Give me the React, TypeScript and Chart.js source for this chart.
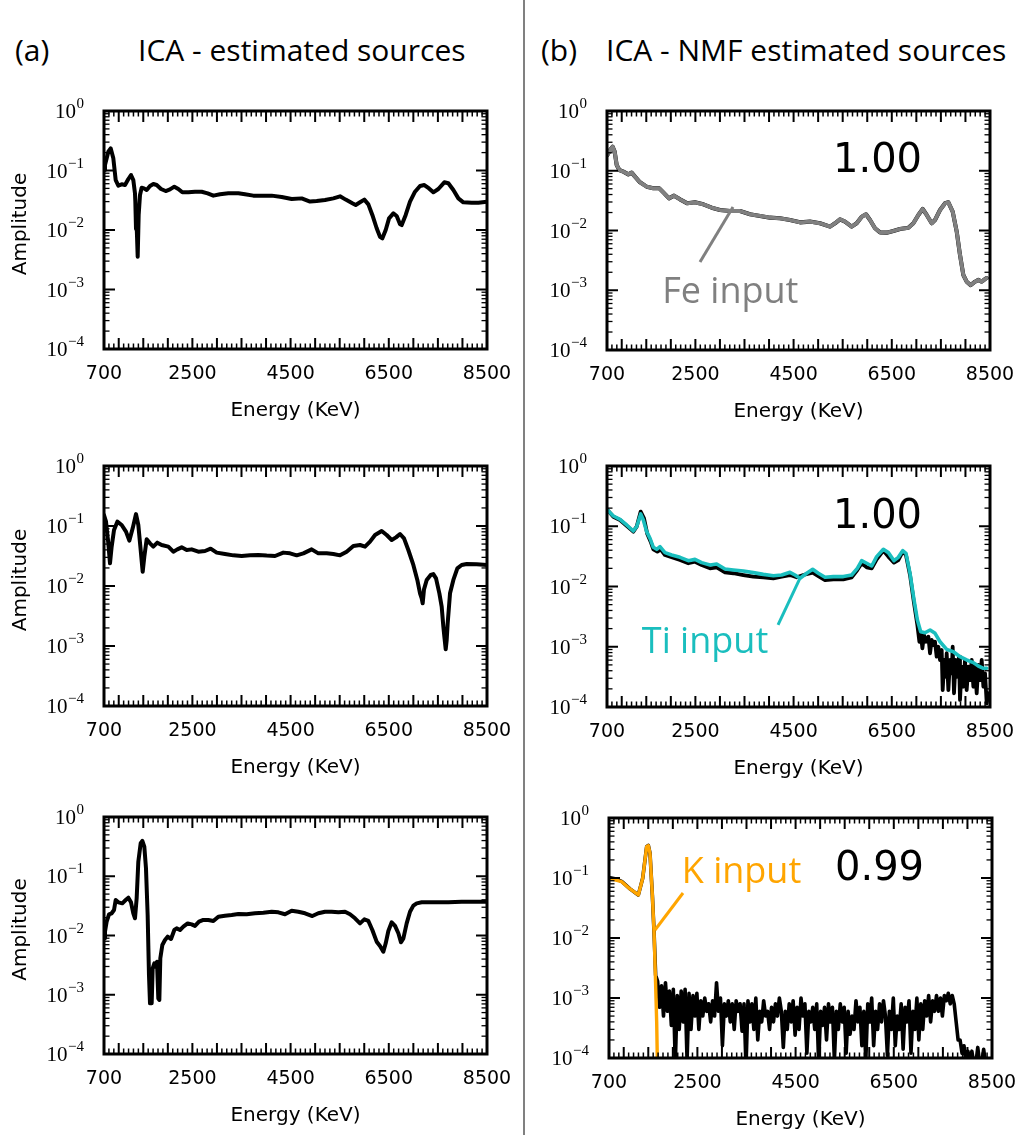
import React, { useEffect, useRef } from "react";
import { Chart, registerables } from "chart.js";
Chart.register(...registerables);

// ---------------- axis values ----------------
const X_MIN = 700;
const X_MAX = 8500;
const X_TICK_LABELS = [700, 2500, 4500, 6500, 8500];
const X_MAJOR_TICKS = [1000, 1500, 2000, 2500, 3000, 3500, 4000, 4500, 5000, 5500, 6000, 6500, 7000, 7500, 8000];
const Y_MIN = 1e-4;
const Y_MAX = 1;
const Y_DECADES = [1e-4, 1e-3, 1e-2, 1e-1, 1];
const Y_EXPONENTS = [-4, -3, -2, -1, 0];

// ---------------- data: [energy (KeV), amplitude] ----------------
const icaSource1: [number, number][] = [
  [700, 0.102], [720, 0.124], [788, 0.207], [836, 0.236], [890, 0.16], [938, 0.069], [992, 0.0556],
  [1060, 0.0586], [1128, 0.057], [1196, 0.072], [1250, 0.084], [1297, 0.069], [1331, 0.0413],
  [1338, 0.03], [1352, 0.0104], [1365, 0.0121], [1386, 0.00356], [1406, 0.0179], [1433, 0.0387],
  [1467, 0.0514], [1515, 0.0501], [1569, 0.047], [1637, 0.055], [1705, 0.0593], [1773, 0.057],
  [1861, 0.0489], [1956, 0.0452], [2044, 0.0482], [2132, 0.0535], [2214, 0.0489], [2295, 0.043],
  [2418, 0.043], [2553, 0.044], [2689, 0.044], [2811, 0.0413], [2927, 0.0378], [3063, 0.0398],
  [3232, 0.0413], [3436, 0.0413], [3572, 0.0398], [3741, 0.0378], [3911, 0.0378], [4115, 0.0378],
  [4319, 0.0359], [4522, 0.0332], [4726, 0.034], [4896, 0.03], [5031, 0.0307], [5201, 0.0319],
  [5371, 0.034], [5507, 0.0368], [5622, 0.0324], [5758, 0.0281], [5826, 0.0263], [5914, 0.0292],
  [6002, 0.0324], [6084, 0.027], [6165, 0.0179], [6253, 0.0107], [6321, 0.0077], [6369, 0.00724],
  [6437, 0.01], [6505, 0.0157], [6593, 0.019], [6661, 0.0172], [6729, 0.0125], [6763, 0.0121],
  [6844, 0.0179], [6932, 0.03], [7034, 0.044], [7136, 0.055], [7224, 0.057], [7319, 0.05],
  [7407, 0.043], [7509, 0.0489], [7631, 0.0633], [7713, 0.061], [7815, 0.047], [7917, 0.034],
  [8018, 0.0292], [8188, 0.0288], [8324, 0.0288], [8500, 0.03],
];

const feInput: [number, number][] = [
  [707, 0.183], [761, 0.222], [815, 0.253], [856, 0.209], [897, 0.125], [951, 0.103], [1033, 0.0966],
  [1134, 0.087], [1202, 0.093], [1270, 0.0796], [1372, 0.064], [1508, 0.0542], [1644, 0.0508],
  [1766, 0.0508], [1847, 0.0435], [1963, 0.0345], [2065, 0.0383], [2187, 0.0332], [2336, 0.0285],
  [2492, 0.0296], [2662, 0.0274], [2832, 0.0241], [3001, 0.022], [3205, 0.0212], [3409, 0.0212],
  [3612, 0.0187], [3816, 0.0175], [4020, 0.0164], [4223, 0.016], [4427, 0.015], [4631, 0.0137],
  [4834, 0.0141], [5038, 0.0132], [5242, 0.0116], [5344, 0.0132], [5445, 0.0154], [5547, 0.0141],
  [5683, 0.0116], [5785, 0.0132], [5887, 0.017], [5975, 0.0187], [6057, 0.015], [6158, 0.0109],
  [6260, 0.0093], [6396, 0.0092], [6532, 0.0098], [6667, 0.0106], [6837, 0.0111], [6939, 0.0132],
  [7041, 0.0182], [7129, 0.0229], [7211, 0.0182], [7313, 0.0132], [7380, 0.015], [7482, 0.022],
  [7584, 0.0285], [7652, 0.0296], [7740, 0.0207], [7822, 0.0096], [7889, 0.0039], [7957, 0.0018],
  [8025, 0.00139], [8106, 0.00122], [8195, 0.00139], [8263, 0.00149], [8331, 0.00139], [8399, 0.00154],
  [8433, 0.0016],
];

const icaSource2: [number, number][] = [
  [700, 0.152], [741, 0.118], [788, 0.0514], [822, 0.0239], [856, 0.0453], [904, 0.0857], [972, 0.118],
  [1060, 0.104], [1148, 0.0805], [1216, 0.057], [1284, 0.0914], [1352, 0.158], [1399, 0.104],
  [1447, 0.0398], [1488, 0.0173], [1521, 0.0308], [1569, 0.06], [1637, 0.0514], [1704, 0.0453],
  [1786, 0.0528], [1874, 0.0482], [2010, 0.0453], [2112, 0.0373], [2193, 0.0408], [2282, 0.0441],
  [2384, 0.0398], [2485, 0.0408], [2621, 0.0373], [2757, 0.0383], [2872, 0.0419], [2995, 0.036],
  [3164, 0.0341], [3334, 0.0324], [3504, 0.0316], [3673, 0.0324], [3843, 0.0329], [4013, 0.0321],
  [4183, 0.0316], [4352, 0.036], [4488, 0.035], [4624, 0.0324], [4760, 0.035], [4929, 0.0408],
  [5065, 0.035], [5235, 0.035], [5371, 0.0341], [5507, 0.0324], [5642, 0.0373], [5778, 0.0464],
  [5914, 0.0482], [6016, 0.0453], [6118, 0.0548], [6220, 0.0708], [6355, 0.0826], [6457, 0.0708],
  [6559, 0.0585], [6647, 0.0647], [6729, 0.0736], [6810, 0.0623], [6898, 0.0398], [7000, 0.0224],
  [7081, 0.0126], [7136, 0.00755], [7170, 0.00623], [7190, 0.00514], [7217, 0.0088], [7272, 0.0126],
  [7353, 0.0153], [7407, 0.0158], [7462, 0.0134], [7530, 0.00755], [7577, 0.00453], [7611, 0.0021],
  [7632, 0.00143], [7659, 0.00088], [7679, 0.00126], [7699, 0.00239], [7747, 0.00755], [7815, 0.0126],
  [7896, 0.0197], [7984, 0.0224], [8086, 0.0233], [8289, 0.023], [8500, 0.0224],
];

const tiInput: [number, number][] = [
  [700, 0.19], [829, 0.148], [965, 0.13], [1100, 0.105], [1236, 0.0834], [1304, 0.0984], [1386, 0.16],
  [1440, 0.127], [1508, 0.0813], [1576, 0.063], [1644, 0.0447], [1712, 0.0414], [1779, 0.0458],
  [1881, 0.0365], [2017, 0.0333], [2187, 0.0305], [2356, 0.0268], [2492, 0.0282], [2628, 0.0249],
  [2798, 0.0228], [2934, 0.0236], [3103, 0.0195], [3273, 0.0188], [3477, 0.0181], [3680, 0.017],
  [3884, 0.0159], [4088, 0.0151], [4257, 0.0155], [4427, 0.0172], [4529, 0.0155], [4631, 0.0137],
  [4767, 0.0166], [4889, 0.0193], [5004, 0.0166], [5140, 0.0142], [5310, 0.0146], [5513, 0.0146],
  [5683, 0.0155], [5798, 0.02], [5887, 0.0268], [5989, 0.0243], [6091, 0.0219], [6192, 0.0313],
  [6328, 0.0414], [6430, 0.0365], [6545, 0.0268], [6633, 0.0305], [6722, 0.0394], [6789, 0.0355],
  [6871, 0.0166], [6953, 0.00597], [7021, 0.00278], [7089, 0.00178], [7177, 0.00171], [7279, 0.0019],
  [7381, 0.00167], [7482, 0.00121], [7618, 0.000906], [7754, 0.000828], [7889, 0.000684],
  [8025, 0.000603], [8161, 0.000545], [8263, 0.000479], [8365, 0.000439], [8433, 0.000439],
];

const nmfTi: [number, number][] = [
  [700, 0.19], [829, 0.144], [965, 0.127], [1100, 0.102], [1236, 0.0813], [1304, 0.0984], [1386, 0.175],
  [1454, 0.135], [1521, 0.0743], [1589, 0.0555], [1644, 0.0414], [1725, 0.0379], [1793, 0.0414],
  [1881, 0.0333], [2017, 0.0305], [2187, 0.0275], [2356, 0.0243], [2492, 0.0258], [2628, 0.0228],
  [2798, 0.02], [2934, 0.0208], [3103, 0.0172], [3273, 0.0166], [3477, 0.0155], [3680, 0.0146],
  [3884, 0.0142], [4088, 0.0137], [4257, 0.0146], [4427, 0.0155], [4563, 0.0142], [4699, 0.0155],
  [4889, 0.017], [5004, 0.0149], [5140, 0.0128], [5310, 0.0131], [5513, 0.0131], [5683, 0.0142],
  [5798, 0.0188], [5887, 0.0243], [5989, 0.0208], [6091, 0.02], [6192, 0.0282], [6328, 0.0394],
  [6430, 0.0313], [6545, 0.0249], [6633, 0.0275], [6722, 0.0379], [6789, 0.0333], [6871, 0.0155],
  [6953, 0.00526], [7021, 0.0023], [7062, 0.00121], [7089, 0.00167], [7123, 0.00094], [7156, 0.00157],
  [7197, 0.00121], [7245, 0.00147], [7279, 0.00078], [7313, 0.0013], [7346, 0.00107], [7380, 0.00121],
  [7414, 0.000684], [7448, 0.001], [7482, 0.000603], [7516, 0.000883], [7536, 0.000191], [7570, 0.000603],
  [7597, 0.000318], [7618, 0.00078], [7652, 0.000191], [7686, 0.000603], [7720, 0.000362], [7740, 0.001],
  [7767, 0.000169], [7801, 0.000603], [7835, 0.000318], [7869, 0.000684], [7889, 0.000131], [7923, 0.000467],
  [7957, 0.000217], [7991, 0.000603], [8025, 0.000191], [8059, 0.000467], [8093, 0.00028], [8127, 0.000603],
  [8161, 0.000217], [8195, 0.000467], [8229, 0.000169], [8263, 0.000498], [8297, 0.00028], [8331, 0.000603],
  [8365, 0.000217], [8399, 0.000362], [8433, 0.000115], [8467, 0.000169],
];

const icaSource3: [number, number][] = [
  [700, 0.009], [720, 0.0116], [754, 0.0171], [802, 0.0228], [856, 0.0237], [904, 0.0269], [938, 0.0397],
  [992, 0.0363], [1073, 0.0349], [1141, 0.0397], [1196, 0.0435], [1250, 0.0363], [1297, 0.0237],
  [1331, 0.0195], [1365, 0.0424], [1399, 0.176], [1447, 0.36], [1481, 0.394], [1521, 0.316], [1555, 0.136],
  [1589, 0.0222], [1616, 0.00215], [1637, 0.000717], [1671, 0.000717], [1691, 0.00279], [1725, 0.00339],
  [1752, 0.00298], [1779, 0.00361], [1806, 0.00087], [1827, 0.000815], [1847, 0.00412], [1888, 0.00692],
  [1942, 0.00839], [1996, 0.00955], [2065, 0.00873], [2132, 0.0124], [2180, 0.0132], [2248, 0.0124],
  [2316, 0.0141], [2404, 0.016], [2485, 0.0154], [2553, 0.0145], [2635, 0.0171], [2723, 0.0183],
  [2825, 0.0183], [2927, 0.0176], [3029, 0.0208], [3164, 0.0216], [3300, 0.0222], [3436, 0.0231],
  [3606, 0.0228], [3775, 0.0237], [3945, 0.0243], [4115, 0.0252], [4251, 0.0246], [4386, 0.0228],
  [4522, 0.0262], [4658, 0.0252], [4794, 0.0237], [4943, 0.0213], [5065, 0.0237], [5201, 0.0252],
  [5337, 0.0252], [5473, 0.0246], [5609, 0.0252], [5710, 0.0228], [5812, 0.0195], [5914, 0.016],
  [6002, 0.0187], [6084, 0.0176], [6165, 0.0124], [6253, 0.00787], [6321, 0.00665], [6389, 0.00533],
  [6437, 0.00738], [6491, 0.0119], [6559, 0.0167], [6627, 0.0145], [6695, 0.0109], [6749, 0.00767],
  [6797, 0.00895], [6864, 0.016], [6932, 0.0252], [7000, 0.0319], [7068, 0.0349], [7170, 0.0363],
  [7306, 0.0363], [7509, 0.0363], [7713, 0.0363], [7985, 0.0372], [8256, 0.0372], [8500, 0.0372],
];

const kInput: [number, number][] = [
  [700, 0.0987], [822, 0.0927], [958, 0.0869], [1128, 0.0656], [1297, 0.0521], [1386, 0.0987],
  [1467, 0.333], [1501, 0.346], [1535, 0.258], [1583, 0.0521], [1617, 0.0128], [1644, 0.00242],
  [1671, 0.000403], [1690, 0.00005],
];

const nmfK: [number, number][] = [
  [700, 0.102], [822, 0.097], [958, 0.088], [1128, 0.066], [1297, 0.052], [1386, 0.099], [1467, 0.333],
  [1501, 0.35], [1535, 0.26], [1583, 0.052], [1617, 0.0128], [1650, 0.0024],
  [1690, 0.0019], [1730, 0.0007], [1770, 0.0016], [1810, 0.0005], [1850, 0.0018], [1890, 0.0006],
  [1930, 0.0013], [1970, 0.00035], [2010, 0.0014], [2050, 0.00008], [2090, 0.0011], [2130, 0.0003],
  [2170, 0.0013], [2210, 0.0004], [2250, 0.0014], [2290, 0.00009], [2330, 0.0012], [2370, 0.0003],
  [2410, 0.0011], [2450, 0.0005], [2490, 0.0012], [2530, 0.0003], [2570, 0.0009], [2610, 0.0005],
  [2650, 0.001], [2690, 0.0006], [2730, 0.0008], [2770, 0.0004], [2810, 0.0009], [2850, 0.0005],
  [2890, 0.0018], [2930, 0.0006], [2970, 0.001], [3010, 0.00016], [3050, 0.0008], [3090, 0.0005],
  [3130, 0.0009], [3170, 0.0004], [3210, 0.0008], [3250, 0.0003], [3290, 0.0009], [3330, 0.0006],
  [3370, 0.0008], [3410, 0.00028], [3450, 0.0008], [3490, 0.00007], [3530, 0.0009], [3570, 0.0004],
  [3610, 0.0008], [3650, 0.0003], [3690, 0.001], [3730, 0.0002], [3770, 0.0006], [3810, 0.0004],
  [3850, 0.0009], [3890, 0.0005], [3930, 0.0006], [3970, 0.0003], [4010, 0.0007], [4050, 0.0004],
  [4090, 0.0008], [4130, 0.0005], [4170, 0.001], [4210, 0.0006], [4250, 0.00015], [4290, 0.0006],
  [4330, 0.0003], [4370, 0.0008], [4410, 0.0004], [4450, 0.0009], [4490, 0.00024], [4530, 0.0007],
  [4570, 0.0003], [4610, 0.001], [4650, 0.0005], [4690, 0.0008], [4730, 0.00012], [4770, 0.0006],
  [4810, 0.0004], [4850, 0.0007], [4890, 0.0003], [4930, 0.0008], [4970, 0.00008], [5010, 0.0006],
  [5050, 0.00035], [5090, 0.0007], [5130, 0.0002], [5170, 0.0008], [5210, 0.0004], [5250, 0.0007],
  [5290, 0.00009], [5330, 0.0006], [5370, 0.0003], [5410, 0.0008], [5450, 0.0004], [5490, 0.0007],
  [5530, 0.00012], [5570, 0.0006], [5610, 0.00025], [5650, 0.0005], [5690, 0.0003], [5730, 0.0009],
  [5770, 0.0004], [5810, 0.0007], [5850, 0.00016], [5890, 0.0006], [5930, 0.00009], [5970, 0.0008],
  [6010, 0.0004], [6050, 0.001], [6090, 0.00016], [6130, 0.0006], [6170, 0.0003], [6210, 0.0008],
  [6250, 0.0004], [6290, 0.0009], [6330, 0.0005], [6370, 0.00011], [6410, 0.0006], [6450, 0.0003],
  [6490, 0.001], [6530, 0.00016], [6570, 0.0005], [6610, 0.0003], [6650, 0.0008], [6690, 0.00014],
  [6730, 0.0007], [6770, 0.0004], [6810, 0.0009], [6850, 0.00012], [6890, 0.0006], [6930, 0.0003],
  [6970, 0.001], [7010, 0.0002], [7050, 0.0008], [7090, 0.0003], [7130, 0.0009], [7170, 0.0005],
  [7210, 0.0011], [7250, 0.0004], [7290, 0.0009], [7330, 0.0006], [7370, 0.0011], [7410, 0.0006],
  [7450, 0.001], [7490, 0.0005], [7530, 0.0011], [7570, 0.0009], [7610, 0.0012], [7650, 0.0008],
  [7690, 0.0011], [7730, 0.0008], [7770, 0.0004], [7810, 0.0002], [7850, 0.0002], [7890, 0.00012],
  [7930, 0.00016], [7970, 0.00008], [8010, 0.00013], [8050, 0.00008], [8090, 0.00013], [8130, 0.00008],
  [8170, 0.00008], [8210, 0.00015], [8250, 0.00008], [8290, 0.00008], [8330, 0.00014], [8370, 0.00008],
  [8410, 0.00008],
];

// ---------------- panel layout ----------------
// series listed first are drawn on top
type Series = { pts: [number, number][]; color: string; width: number };
type Note = { text: string; fx: number; fy: number; font: string; color: string };
type Leader = { from: [number, number]; to: [number, number]; color: string };
type Panel = {
  left: number; top: number; right: number; bottom: number; ylabel: boolean;
  series: Series[]; notes: Note[]; leaders: Leader[];
};

const NUM_FONT = '40px "DejaVu Sans"';
const ANNO_FONT = '36px "Open Sans"';
const GRAY = "#808080";
const CYAN = "#1ABEBE";
const ORANGE = "#FFA500";

const PANELS: Panel[] = [
  { left: 104, top: 111, right: 487, bottom: 349, ylabel: true,
    series: [{ pts: icaSource1, color: "#000", width: 4 }], notes: [], leaders: [] },
  { left: 607, top: 111, right: 990, bottom: 350, ylabel: false,
    series: [{ pts: feInput, color: GRAY, width: 3.8 }, { pts: feInput, color: "#000", width: 4.1 }],
    notes: [
      { text: "1.00", fx: 0.59, fy: 0.745, font: NUM_FONT, color: "#000" },
      { text: "Fe input", fx: 0.144, fy: 0.197, font: ANNO_FONT, color: GRAY },
    ],
    leaders: [{ from: [2594, 0.00297], to: [3266, 0.0247], color: GRAY }] },
  { left: 104, top: 466, right: 487, bottom: 706, ylabel: true,
    series: [{ pts: icaSource2, color: "#000", width: 4 }], notes: [], leaders: [] },
  { left: 607, top: 466, right: 990, bottom: 707, ylabel: false,
    series: [{ pts: tiInput, color: CYAN, width: 3.6 }, { pts: nmfTi, color: "#000", width: 3.8 }],
    notes: [
      { text: "1.00", fx: 0.59, fy: 0.743, font: NUM_FONT, color: "#000" },
      { text: "Ti input", fx: 0.091, fy: 0.224, font: ANNO_FONT, color: CYAN },
    ],
    leaders: [{ from: [4183, 0.0023], to: [4631, 0.0138], color: CYAN }] },
  { left: 104, top: 817, right: 487, bottom: 1054, ylabel: true,
    series: [{ pts: icaSource3, color: "#000", width: 4 }], notes: [], leaders: [] },
  { left: 609, top: 818, right: 992, bottom: 1058, ylabel: false,
    series: [{ pts: kInput, color: ORANGE, width: 3.4 }, { pts: nmfK, color: "#000", width: 3.6 }],
    notes: [
      { text: "0.99", fx: 0.59, fy: 0.742, font: NUM_FONT, color: "#000" },
      { text: "K input", fx: 0.19, fy: 0.729, font: ANNO_FONT, color: ORANGE },
    ],
    leaders: [{ from: [2207, 0.0562], to: [1637, 0.0136], color: ORANGE }] },
];

const PAD_L = 104, PAD_T = 30, PAD_B = 75;

function framePlugin(p: Panel) {
  return {
    id: "mplFrame",
    afterDraw(chart: any) {
      const { ctx, chartArea: a, scales } = chart;
      const xs = scales.x, ys = scales.y;
      ctx.save();
      ctx.strokeStyle = "#000";
      ctx.lineCap = "butt";
      const seg = (x1: number, y1: number, x2: number, y2: number, w: number) => {
        ctx.lineWidth = w; ctx.beginPath(); ctx.moveTo(x1, y1); ctx.lineTo(x2, y2); ctx.stroke();
      };
      const MAJ = 11, MIN = 5.5;
      for (let v = X_MIN + 100; v < X_MAX; v += 100) {
        const x = xs.getPixelForValue(v);
        const major = X_MAJOR_TICKS.includes(v);
        const L = major ? MAJ : MIN, w = major ? 2 : 1.5;
        seg(x, a.top, x, a.top + L, w);
        seg(x, a.bottom, x, a.bottom - L, w);
      }
      for (let d = 0; d < Y_DECADES.length; d++) {
        const dec = Y_DECADES[d];
        const y = ys.getPixelForValue(dec);
        seg(a.left, y, a.left + MAJ, y, 2);
        seg(a.right, y, a.right - MAJ, y, 2);
        if (dec < Y_MAX) {
          for (let k = 2; k <= 9; k++) {
            const ym = ys.getPixelForValue(k * dec);
            seg(a.left, ym, a.left + MIN, ym, 1.3);
            seg(a.right, ym, a.right - MIN, ym, 1.3);
          }
        }
      }
      ctx.lineWidth = 3;
      ctx.strokeRect(a.left, a.top, a.right - a.left, a.bottom - a.top);

      ctx.fillStyle = "#000";
      for (let i = 0; i < Y_DECADES.length; i++) {
        const y = ys.getPixelForValue(Y_DECADES[i]);
        const e = Y_EXPONENTS[i];
        const expTxt = e === 0 ? "0" : "\u2212" + String(-e);
        const right = a.left - 20;
        ctx.textAlign = "left";
        ctx.textBaseline = "alphabetic";
        ctx.font = '15px "Liberation Serif"';
        const ew = ctx.measureText(expTxt).width;
        ctx.fillText(expTxt, right - ew, y - 3);
        ctx.font = '21px "Liberation Serif"';
        const bw = ctx.measureText("10").width;
        ctx.fillText("10", right - ew - bw - 0.5, y + 7);
      }
      ctx.font = '19px "DejaVu Sans"';
      ctx.textAlign = "center";
      for (const v of X_TICK_LABELS) {
        ctx.fillText(String(v), xs.getPixelForValue(v), a.bottom + 30);
      }
      ctx.font = '20px "DejaVu Sans"';
      ctx.fillText("Energy (KeV)", (a.left + a.right) / 2, a.bottom + 67);
      if (p.ylabel) {
        ctx.save();
        ctx.translate(26, (a.top + a.bottom) / 2 - 6);
        ctx.rotate(-Math.PI / 2);
        ctx.textAlign = "center";
        ctx.fillText("Amplitude", 0, 0);
        ctx.restore();
      }
      for (const l of p.leaders) {
        ctx.strokeStyle = l.color;
        ctx.lineWidth = 3;
        ctx.beginPath();
        ctx.moveTo(xs.getPixelForValue(l.from[0]), ys.getPixelForValue(l.from[1]));
        ctx.lineTo(xs.getPixelForValue(l.to[0]), ys.getPixelForValue(l.to[1]));
        ctx.stroke();
      }
      for (const n of p.notes) {
        ctx.font = n.font;
        ctx.fillStyle = n.color;
        ctx.textAlign = "left";
        ctx.textBaseline = "alphabetic";
        const x = a.left + n.fx * (a.right - a.left);
        const y = a.bottom - n.fy * (a.bottom - a.top);
        ctx.fillText(n.text, x, y);
      }
      ctx.restore();
    },
  };
}

function PanelChart({ p }: { p: Panel }) {
  const ref = useRef<HTMLCanvasElement | null>(null);
  const padR = p.left > 500 ? 28 : 30;
  const W = p.right - p.left + PAD_L + padR;
  const H = p.bottom - p.top + PAD_T + PAD_B;
  useEffect(() => {
    if (!ref.current) return;
    const chart = new Chart(ref.current, {
      type: "line",
      data: {
        datasets: p.series.map((s, i) => ({
          data: s.pts.map(([x, y]) => ({ x, y })),
          borderColor: s.color,
          borderWidth: s.width,
          order: i,
          pointRadius: 0,
          fill: false,
          tension: 0,
          borderJoinStyle: "round" as const,
          borderCapStyle: "round" as const,
        })),
      },
      options: {
        responsive: false,
        maintainAspectRatio: false,
        devicePixelRatio: 1,
        animation: false,
        events: [],
        layout: { padding: { left: PAD_L, top: PAD_T, right: padR, bottom: PAD_B } },
        plugins: { legend: { display: false }, tooltip: { enabled: false } },
        scales: {
          x: { type: "linear", min: X_MIN, max: X_MAX, display: false },
          y: { type: "logarithmic", min: Y_MIN, max: Y_MAX, display: false },
        },
      },
      plugins: [framePlugin(p)],
    } as any);
    return () => chart.destroy();
  }, []);
  return (
    <canvas
      ref={ref}
      width={W}
      height={H}
      style={{ position: "absolute", left: p.left - PAD_L, top: p.top - PAD_T, width: W, height: H }}
    />
  );
}

const titleStyle: React.CSSProperties = {
  position: "absolute",
  font: '30px "Open Sans"',
  lineHeight: "30px",
  whiteSpace: "nowrap",
  color: "#000",
  top: 35,
};

export default function App() {
  return (
    <div style={{ position: "absolute", left: 0, top: 0, width: 1022, height: 1135, overflow: "hidden", background: "#fff" }}>
      <div style={{ position: "absolute", left: 523, top: 0, width: 2, height: 1135, background: "#808080" }} />
      <div style={{ ...titleStyle, left: 15 }}>(a)</div>
      <div style={{ ...titleStyle, left: 138 }}>ICA - estimated sources</div>
      <div style={{ ...titleStyle, left: 541 }}>(b)</div>
      <div style={{ ...titleStyle, left: 606 }}>ICA - NMF estimated sources</div>
      {PANELS.map((p, i) => (
        <PanelChart key={i} p={p} />
      ))}
    </div>
  );
}
